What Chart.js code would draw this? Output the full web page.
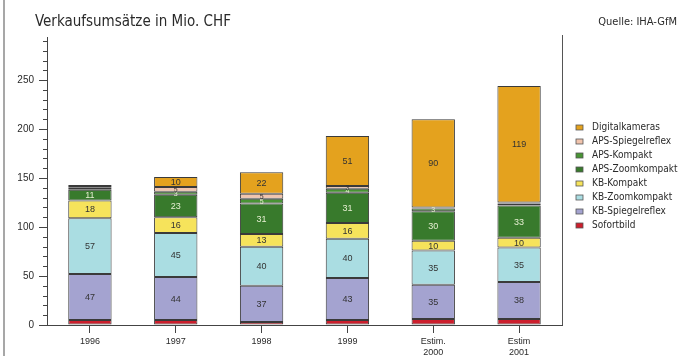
<!DOCTYPE html>
<html>
<head>
<meta charset="utf-8">
<script src="https://cdn.jsdelivr.net/npm/chart.js@4/dist/chart.umd.min.js"></script>
<style>
  html, body { margin: 0; padding: 0; background: #fff; }
  #wrap { width: 681px; height: 356px; position: relative; }
</style>
</head>
<body>
<div id="wrap"><canvas id="c" width="681" height="356"></canvas></div>
<script>
// Years (two-line labels for the estimates)
const categories = ['1996', '1997', '1998', '1999', ['Estim.', '2000'], ['Estim', '2001']];

// Sales per camera type, Mio. CHF
const sofortbild     = [5, 5, 3, 5, 6, 6];
const kbSpiegelreflex = [47, 44, 37, 43, 35, 38];
const kbZoomkompakt  = [57, 45, 40, 40, 35, 35];
const kbKompakt      = [18, 16, 13, 16, 10, 10];
const apsZoomkompakt = [11, 23, 31, 31, 30, 33];
const apsKompakt     = [2, 3, 5, 4, 3, 2];
const apsSpiegelreflex = [2, 5, 5, 3, 1, 1];
const digitalkameras = [1, 10, 22, 51, 90, 119];

// Y axis ticks
const yMajorTicks = [0, 50, 100, 150, 200, 250];
const yMinorStep = 10;
const yMax = 294;

const NARROW = "'Liberation Sans Narrow', 'DejaVu Sans Condensed', 'Liberation Sans', sans-serif";
const SANS = "'Liberation Sans', Arial, sans-serif";

// Bottom-to-top stacking order
const series = [
  { label: 'Sofortbild',       data: sofortbild,       color: '#cc1e2c', text: null },
  { label: 'KB-Spiegelreflex', data: kbSpiegelreflex,  color: '#a4a3d0', text: '#333' },
  { label: 'KB-Zoomkompakt',   data: kbZoomkompakt,    color: '#aadde2', text: '#333' },
  { label: 'KB-Kompakt',       data: kbKompakt,        color: '#f6e35b', text: '#333' },
  { label: 'APS-Zoomkompakt',  data: apsZoomkompakt,   color: '#387a2c', text: '#e6efd2' },
  { label: 'APS-Kompakt',      data: apsKompakt,       color: '#489434', text: '#e6efd2' },
  { label: 'APS-Spiegelreflex',data: apsSpiegelreflex, color: '#f1c4ad', text: '#333' },
  { label: 'Digitalkameras',   data: digitalkameras,   color: '#e4a21e', text: '#333' }
];

const decor = {
  id: 'decor',
  beforeDraw(chart) {
    const ctx = chart.ctx;
    ctx.save();
    ctx.fillStyle = '#fff';
    ctx.fillRect(0, 0, chart.width, chart.height);
    ctx.restore();
  },
  afterDraw(chart) {
    const ctx = chart.ctx;
    const area = chart.chartArea;
    const y = chart.scales.y;
    ctx.save();

    // page edge on the left
    ctx.strokeStyle = '#8a8a8a';
    ctx.lineWidth = 1.5;
    ctx.beginPath();
    ctx.moveTo(4, 0); ctx.lineTo(4, chart.height);
    ctx.stroke();

    // right frame line
    ctx.strokeStyle = '#555';
    ctx.lineWidth = 1;
    ctx.beginPath();
    ctx.moveTo(Math.round(area.right) + 0.5, 35);
    ctx.lineTo(Math.round(area.right) + 0.5, area.bottom);
    ctx.stroke();

    // minor ticks on the y axis
    ctx.strokeStyle = '#444';
    for (let v = 0; v <= yMax; v += yMinorStep) {
      if (v % 50 === 0) continue;
      const py = Math.round(y.getPixelForValue(v)) + 0.5;
      ctx.beginPath();
      ctx.moveTo(area.left - 4, py); ctx.lineTo(area.left, py);
      ctx.stroke();
    }

    // titles
    ctx.fillStyle = '#2a2a2a';
    ctx.textBaseline = 'alphabetic';
    ctx.font = '15px ' + NARROW;
    ctx.textAlign = 'left';
    ctx.fillText('Verkaufsumsätze in Mio. CHF', 35, 26);
    ctx.font = '11px ' + NARROW;
    ctx.textAlign = 'right';
    ctx.fillText('Quelle: IHA-GfM', 677, 25);

    // value labels inside the segments
    ctx.textAlign = 'center';
    ctx.textBaseline = 'middle';
    chart.data.datasets.forEach((ds, di) => {
      const s = series[di];
      if (!s.text) return;
      const meta = chart.getDatasetMeta(di);
      meta.data.forEach((bar, i) => {
        const v = ds.data[i];
        if (v < 3) return;
        ctx.font = (v < 8 ? '7px ' : '9px ') + SANS;
        ctx.fillStyle = s.text;
        ctx.fillText(String(v), bar.x, (bar.y + bar.base) / 2 + 0.5);
      });
    });

    // legend, top entry = top of the stack
    ctx.textAlign = 'left';
    ctx.textBaseline = 'middle';
    ctx.font = '10px ' + NARROW;
    const items = series.slice().reverse();
    items.forEach((s, k) => {
      const cy = 127.5 + k * 14;
      ctx.fillStyle = s.color;
      ctx.fillRect(576, cy - 2.5, 7, 5);
      ctx.strokeStyle = '#555';
      ctx.lineWidth = 0.8;
      ctx.strokeRect(576, cy - 2.5, 7, 5);
      ctx.fillStyle = '#2a2a2a';
      ctx.fillText(s.label, 592, cy);
    });

    ctx.restore();
  }
};

new Chart(document.getElementById('c'), {
  type: 'bar',
  data: {
    labels: categories,
    datasets: series.map(s => ({
      label: s.label,
      data: s.data,
      backgroundColor: s.color,
      borderColor: '#3a3a3a',
      borderWidth: 1,
      borderSkipped: false,
      categoryPercentage: 1,
      barPercentage: 0.505
    }))
  },
  options: {
    responsive: false,
    animation: false,
    devicePixelRatio: 1,
    layout: { padding: { left: 0, right: 119, top: 37, bottom: 0 } },
    plugins: {
      legend: { display: false },
      tooltip: { enabled: false },
      title: { display: false }
    },
    scales: {
      x: {
        stacked: true,
        afterFit(scale) { scale.height = 31; },
        grid: { offset: false, drawOnChartArea: false, tickLength: 8, color: '#444' },
        border: { color: '#444', width: 1 },
        ticks: {
          color: '#2a2a2a',
          padding: 3,
          maxRotation: 0,
          autoSkip: false,
          font: { family: SANS, size: 9, lineHeight: 1.25 }
        }
      },
      y: {
        stacked: true,
        min: 0,
        max: yMax,
        afterFit(scale) { scale.width = 47; },
        afterBuildTicks(scale) { scale.ticks = yMajorTicks.map(v => ({ value: v })); },
        grid: { drawOnChartArea: false, tickLength: 8, color: '#444' },
        border: { color: '#444', width: 1 },
        ticks: {
          color: '#2a2a2a',
          padding: 5,
          font: { family: SANS, size: 10 }
        }
      }
    }
  },
  plugins: [decor]
});
</script>
</body>
</html>
